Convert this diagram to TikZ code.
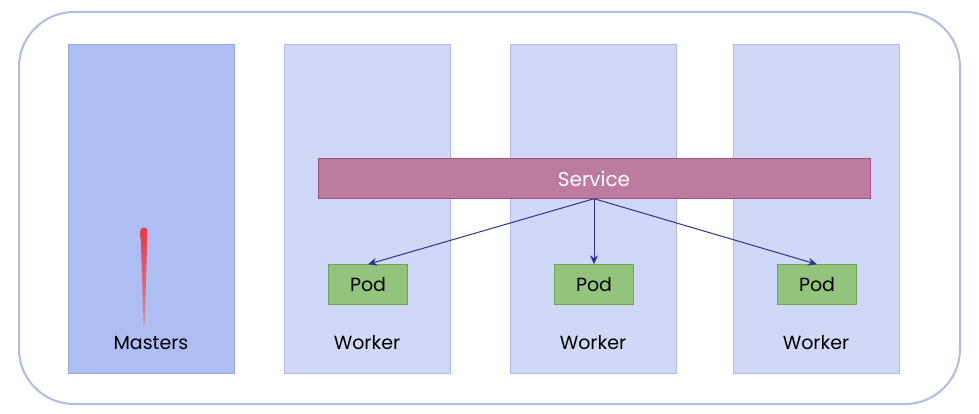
\documentclass[tikz,border=0pt]{standalone}
\usepackage{fontspec}
\setmainfont{Poppins}
\usepackage{tikz}
\usetikzlibrary{arrows.meta}
\definecolor{outerline}{RGB}{176,188,232}
\definecolor{masterfill}{RGB}{174,190,242}
\definecolor{masterline}{RGB}{150,168,228}
\definecolor{workerfill}{RGB}{208,216,248}
\definecolor{workerline}{RGB}{176,188,232}
\definecolor{svcfill}{RGB}{190,123,160}
\definecolor{svcline}{RGB}{160,82,126}
\definecolor{podfill}{RGB}{147,196,125}
\definecolor{podline}{RGB}{106,168,79}
\definecolor{arrowblue}{RGB}{46,49,146}
\definecolor{penred}{RGB}{232,58,72}
\definecolor{penpink}{RGB}{222,130,150}
\tikzset{
    column/.style={rectangle,minimum width=166pt,minimum height=329pt,inner sep=0pt},
    podbox/.style={rectangle,draw=podline,fill=podfill,minimum width=79pt,minimum height=40pt,inner sep=0pt,font=\fontsize{19}{22}\selectfont},
    label/.style={font=\fontsize{19}{22}\selectfont},
    link/.style={-{Stealth[length=9pt,width=8pt]},arrowblue,line width=1pt}
}
\begin{document}
\begin{tikzpicture}[x=1pt,y=-1pt]
    \useasboundingbox (0,0) rectangle (979,414);
    \draw[outerline,line width=2pt,rounded corners=55pt] (19,12) rectangle (960,404);
    % columns
    \node[column,draw=masterline,fill=masterfill] (masters) at (151,208.5) {};
    \node[column,draw=workerline,fill=workerfill] (worker1) at (367,208.5) {};
    \node[column,draw=workerline,fill=workerfill] (worker2) at (593,208.5) {};
    \node[column,draw=workerline,fill=workerfill] (worker3) at (816,208.5) {};
    \node[label] (mlabel) at (151,343) {Masters};
    \node[label] (w1label) at (367,343) {Worker};
    \node[label] (w2label) at (593,343) {Worker};
    \node[label] (w3label) at (816,343) {Worker};
    % service and pods
    \node[rectangle,draw=svcline,fill=svcfill,minimum width=552pt,minimum height=40pt,inner sep=0pt,
        text=white,font=\fontsize{20}{24}\selectfont] (svc) at (594,178.5) {Service};
    \node[podbox] (pod1) at (368,284.5) {Pod};
    \node[podbox] (pod2) at (594,284.5) {Pod};
    \node[podbox] (pod3) at (817,284.5) {Pod};
    \draw[link] (svc.south) -- (pod1.north);
    \draw[link] (svc.south) -- (pod2.north);
    \draw[link] (svc.south) -- (pod3.north);
    % pen stroke
    \shade[top color=penred,bottom color=penpink] (140.5,231) arc (180:360:3.5) -- (144.6,325) -- (143.6,325) -- cycle;
\end{tikzpicture}
\end{document}
